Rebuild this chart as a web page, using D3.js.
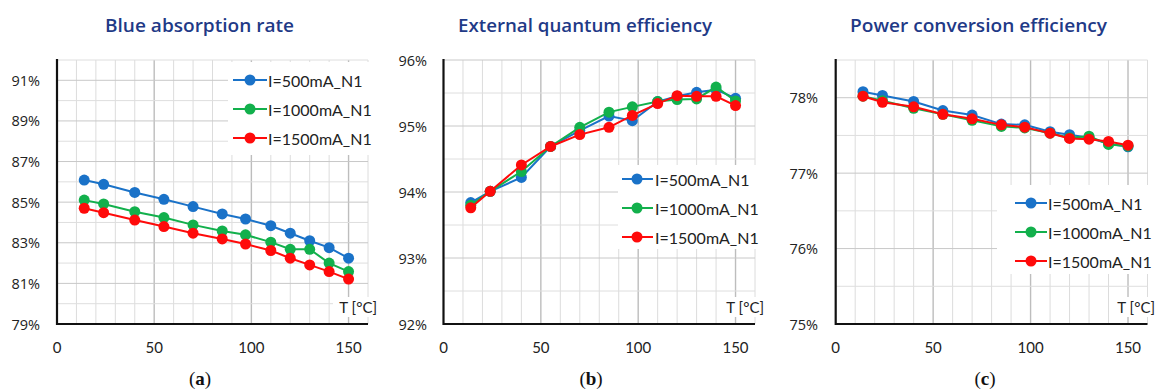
<!DOCTYPE html>
<html>
<head>
<meta charset="utf-8">
<script src="https://cdn.jsdelivr.net/npm/d3@7"></script>
<style>
html,body{margin:0;padding:0;background:#fff;}
svg{display:block;}
</style>
</head>
<body>
<svg id="chart" width="1158" height="390"></svg>
<script>
// ---- data ----
const temps = [14, 24, 40, 55, 70, 85, 97, 110, 120, 130, 140, 150];
const seriesNames = ["I=500mA_N1", "I=1000mA_N1", "I=1500mA_N1"];
const seriesColors = ["#1a72c8", "#12b04c", "#ff0a0a"];

const absorption500  = [86.09, 85.88, 85.48, 85.14, 84.78, 84.42, 84.17, 83.84, 83.47, 83.10, 82.76, 82.24];
const absorption1000 = [85.10, 84.91, 84.53, 84.24, 83.88, 83.58, 83.39, 83.03, 82.68, 82.68, 82.00, 81.58];
const absorption1500 = [84.70, 84.48, 84.12, 83.80, 83.47, 83.19, 82.94, 82.62, 82.24, 81.91, 81.58, 81.21];

const eqe500  = [93.84, 94.01, 94.22, 94.69, 94.93, 95.15, 95.08, 95.37, 95.45, 95.51, 95.55, 95.42];
const eqe1000 = [93.80, 94.01, 94.31, 94.69, 94.98, 95.21, 95.29, 95.37, 95.40, 95.41, 95.59, 95.38];
const eqe1500 = [93.76, 94.01, 94.41, 94.69, 94.87, 94.98, 95.16, 95.34, 95.46, 95.45, 95.45, 95.31];

const pce500  = [78.08, 78.03, 77.95, 77.83, 77.77, 77.65, 77.64, 77.55, 77.51, 77.47, 77.39, 77.35];
const pce1000 = [78.02, 77.96, 77.86, 77.78, 77.70, 77.62, 77.60, 77.53, 77.47, 77.49, 77.38, 77.36];
const pce1500 = [78.02, 77.94, 77.88, 77.78, 77.72, 77.64, 77.61, 77.53, 77.46, 77.45, 77.42, 77.37];

const titles = ["Blue absorption rate", "External quantum efficiency", "Power conversion efficiency"];
const captions = ["a", "b", "c"];
const xTicks = [0, 50, 100, 150];
const yTicksA = [79, 81, 83, 85, 87, 89, 91];
const yTicksB = [92, 93, 94, 95, 96];
const yTicksC = [75, 76, 77, 78];
const xLabel = "T [°C]";

// ---- layout ----
const svg = d3.select("#chart");
const panels = [
  {left: 57, right: 368, top: 60, bottom: 324, ydom: [79, 92], ystep: 1, yTicks: yTicksA,
   series: [absorption500, absorption1000, absorption1500], labelRight: 40,
   title: {cx: 199.5, w: 189}, capX: 200,
   legend: {x0: 228, x1: 371, y0: 62, y1: 155, rowY: 80, rowGap: 29, lx0: 233, lx1: 267, mx: 250, tx: 268},
   tlab: {xr: 377}},
  {left: 443.5, right: 755, top: 60, bottom: 324, ydom: [92, 96], ystep: 0.5, yTicks: yTicksB,
   series: [eqe500, eqe1000, eqe1500], labelRight: 427,
   title: {cx: 585, w: 254}, capX: 591,
   legend: {x0: 618, x1: 757, y0: 165, y1: 249, rowY: 179, rowGap: 29, lx0: 622, lx1: 653, mx: 637, tx: 655},
   tlab: {xr: 764}},
  {left: 835.7, right: 1147.5, top: 60, bottom: 324, ydom: [75, 78.5], ystep: 0.5, yTicks: yTicksC,
   series: [pce500, pce1000, pce1500], labelRight: 818,
   title: {cx: 978.5, w: 257}, capX: 985,
   legend: {x0: 997, x1: 1150, y0: 185, y1: 274, rowY: 203, rowGap: 29, lx0: 1015, lx1: 1047, mx: 1031, tx: 1048},
   tlab: {xr: 1155}}
];

const tickFont = "Lato, 'Open Sans', sans-serif";
const yTickFont = "'Open Sans', Lato, sans-serif";

panels.forEach((p, i) => {
  const g = svg.append("g");
  const x = d3.scaleLinear().domain([0, 160]).range([p.left, p.right]);
  const y = d3.scaleLinear().domain(p.ydom).range([p.bottom, p.top]);

  // vertical grid
  const vgrid = d3.range(10, 161, 10);
  g.append("g").selectAll("line").data(vgrid).join("line")
    .attr("x1", d => x(d)).attr("x2", d => x(d))
    .attr("y1", p.top).attr("y2", p.bottom)
    .attr("stroke", d => d % 50 === 0 ? "#bdbdbd" : "#dcdcdc")
    .attr("stroke-width", d => d % 50 === 0 ? 1.4 : 1);
  // horizontal grid
  const nH = Math.round((p.ydom[1] - p.ydom[0]) / p.ystep);
  const hgrid = d3.range(1, nH + 1).map(k => p.ydom[0] + k * p.ystep);
  g.append("g").selectAll("line").data(hgrid).join("line")
    .attr("x1", p.left).attr("x2", p.right)
    .attr("y1", d => y(d)).attr("y2", d => y(d))
    .attr("stroke", d => p.yTicks.some(t => Math.abs(t - d) < 1e-6) ? "#c8c8c8" : "#dedede")
    .attr("stroke-width", 1);

  // axes lines
  g.append("line").attr("x1", p.left).attr("x2", p.left).attr("y1", p.top - 1).attr("y2", p.bottom + 1)
    .attr("stroke", "#111").attr("stroke-width", 2.2);
  g.append("line").attr("x1", p.left).attr("x2", p.right).attr("y1", p.bottom).attr("y2", p.bottom)
    .attr("stroke", "#111").attr("stroke-width", 2.2);

  // y tick labels
  g.append("g").selectAll("text").data(p.yTicks).join("text")
    .attr("x", p.labelRight).attr("y", d => y(d))
    .attr("text-anchor", "end").attr("dominant-baseline", "central")
    .attr("font-family", yTickFont).attr("font-size", 14.5).attr("fill", "#222")
    .text(d => d + "%");
  // x tick labels
  g.append("g").selectAll("text").data(xTicks).join("text")
    .attr("x", d => x(d)).attr("y", 347)
    .attr("text-anchor", "middle").attr("dominant-baseline", "central")
    .attr("font-family", tickFont).attr("font-size", 15).attr("fill", "#222")
    .text(d => d);

  // T label
  const tl = g.append("g");
  tl.append("rect").attr("x", p.tlab.xr - 44).attr("y", 297).attr("width", 45).attr("height", 20).attr("fill", "#fff");
  tl.append("text").attr("x", p.tlab.xr).attr("y", 307).attr("text-anchor", "end")
    .attr("dominant-baseline", "central").attr("font-family", tickFont).attr("font-size", 15).attr("fill", "#222")
    .text(xLabel);

  // series
  const line = d3.line().x((d, k) => x(temps[k])).y(d => y(d));
  p.series.forEach((s, si) => {
    g.append("path").datum(s).attr("d", line).attr("fill", "none")
      .attr("stroke", seriesColors[si]).attr("stroke-width", 2);
    g.append("g").selectAll("circle").data(s).join("circle")
      .attr("cx", (d, k) => x(temps[k])).attr("cy", d => y(d)).attr("r", 5.5)
      .attr("fill", seriesColors[si]);
  });

  // legend
  const L = p.legend;
  const lg = g.append("g");
  lg.append("rect").attr("x", L.x0).attr("y", L.y0).attr("width", L.x1 - L.x0).attr("height", L.y1 - L.y0).attr("fill", "#fff");
  seriesNames.forEach((nm, si) => {
    const yy = L.rowY + si * L.rowGap;
    lg.append("line").attr("x1", L.lx0).attr("x2", L.lx1).attr("y1", yy).attr("y2", yy)
      .attr("stroke", seriesColors[si]).attr("stroke-width", 2);
    lg.append("circle").attr("cx", L.mx).attr("cy", yy).attr("r", 5.5).attr("fill", seriesColors[si]);
    lg.append("text").attr("x", L.tx).attr("y", yy).attr("dominant-baseline", "central")
      .attr("font-family", tickFont).attr("font-size", 16).attr("fill", "#222").text(nm);
  });

  // title
  g.append("text").attr("x", p.title.cx).attr("y", 25)
    .attr("text-anchor", "middle").attr("dominant-baseline", "central")
    .attr("font-family", "'Open Sans', Lato, sans-serif").attr("font-weight", 600).attr("font-size", 18)
    .attr("textLength", p.title.w).attr("lengthAdjust", "spacingAndGlyphs")
    .attr("fill", "#1f3a87").text(titles[i]);

  // caption
  const cap = g.append("text").attr("x", p.capX).attr("y", 378)
    .attr("text-anchor", "middle").attr("dominant-baseline", "central")
    .attr("font-family", "'Liberation Serif', 'DejaVu Serif', serif").attr("font-size", 19).attr("fill", "#111");
  cap.append("tspan").text("(");
  cap.append("tspan").attr("font-weight", "bold").text(captions[i]);
  cap.append("tspan").text(")");
});
</script>
</body>
</html>
